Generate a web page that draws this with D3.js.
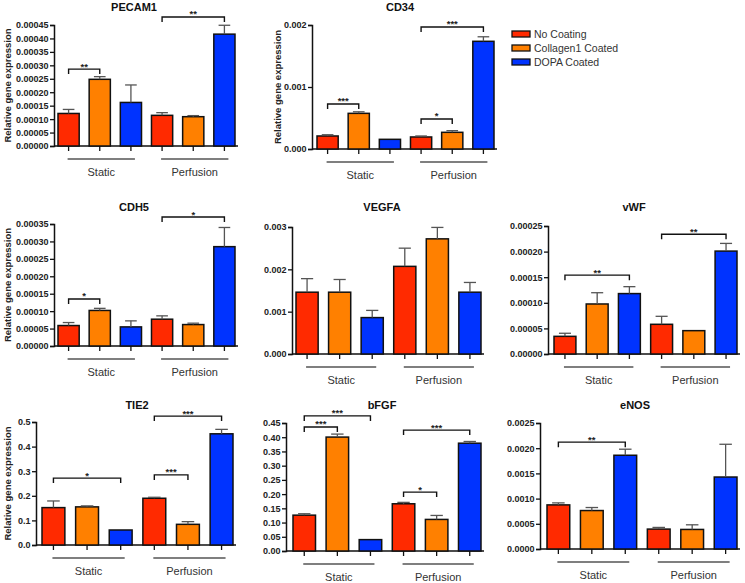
<!DOCTYPE html>
<html>
<head>
<meta charset="utf-8">
<script src="https://cdn.jsdelivr.net/npm/d3@7"></script>
<style>
  body { margin: 0; background: #fff; }
  svg { display: block; }
  text { font-family: "Liberation Sans", Arial, sans-serif; }
</style>
</head>
<body>
<svg id="chart" width="745" height="583"></svg>
<script>
// ---------------- DATA ----------------
const genes = ["PECAM1", "CD34", "CDH5", "VEGFA", "vWF", "TIE2", "bFGF", "eNOS"];
const groups = ["Static", "Perfusion"];
const coatings = ["No Coating", "Collagen1 Coated", "DOPA Coated"];
const coatingColors = ["#ff2a00", "#ff8000", "#0033ff"];

// bar order: Static(No, Col1, DOPA), Perfusion(No, Col1, DOPA)
const meanPECAM1 = [0.000121, 0.000248, 0.000162, 0.000114, 0.000109, 0.000416];
const errPECAM1  = [0.000015, 0.000010, 0.000065, 0.000010, 0.000004, 0.000033];
const meanCD34   = [0.000210, 0.000575, 0.000156, 0.000194, 0.000269, 0.001737];
const errCD34    = [0.000020, 0.000025, 0.000000, 0.000016, 0.000027, 0.000073];
const meanCDH5   = [0.0000587, 0.000102, 0.0000548, 0.0000769, 0.0000615, 0.000285];
const errCDH5    = [0.0000086, 0.000006, 0.0000173, 0.0000096, 0.0000040, 0.000055];
const meanVEGFA  = [0.00146, 0.00146, 0.00086, 0.00207, 0.00272, 0.00146];
const errVEGFA   = [0.00032, 0.00030, 0.00017, 0.00043, 0.00027, 0.00023];
const meanVWF    = [0.0000345, 0.0000977, 0.000118, 0.000058, 0.0000456, 0.000201];
const errVWF     = [0.0000060, 0.0000220, 0.0000135, 0.0000156, 0.0000000, 0.000015];
const meanTIE2   = [0.152, 0.155, 0.061, 0.190, 0.084, 0.452];
const errTIE2    = [0.027, 0.004, 0.000, 0.004, 0.011, 0.018];
const meanBFGF   = [0.126, 0.4005, 0.040, 0.166, 0.111, 0.379];
const errBFGF    = [0.005, 0.0105, 0.000, 0.005, 0.014, 0.006];
const meanENOS   = [0.000875, 0.000763, 0.00186, 0.000395, 0.000388, 0.001428];
const errENOS    = [0.000040, 0.000060, 0.00012, 0.000033, 0.000092, 0.00065];

// y tick values per panel
const ticksPECAM1 = [0, 0.00005, 0.0001, 0.00015, 0.0002, 0.00025, 0.0003, 0.00035, 0.0004, 0.00045];
const ticksCD34   = [0, 0.001, 0.002];
const ticksCDH5   = [0, 0.00005, 0.0001, 0.00015, 0.0002, 0.00025, 0.0003, 0.00035];
const ticksVEGFA  = [0, 0.001, 0.002, 0.003];
const ticksVWF    = [0, 0.00005, 0.0001, 0.00015, 0.0002, 0.00025];
const ticksTIE2   = [0, 0.1, 0.2, 0.3, 0.4, 0.5];
const ticksBFGF   = [0, 0.05, 0.1, 0.15, 0.2, 0.25, 0.3, 0.35, 0.4, 0.45];
const ticksENOS   = [0, 0.0005, 0.001, 0.0015, 0.002, 0.0025];
const tickDecimals = [5, 3, 5, 3, 5, 1, 2, 4];

// significance brackets: [fromBar, toBar, level (data units), label]
const sigPECAM1 = [[0, 1, 0.000286, "**"], [3, 5, 0.00048, "**"]];
const sigCD34   = [[0, 1, 0.000726, "***"], [3, 4, 0.000484, "*"], [3, 5, 0.001968, "***"]];
const sigCDH5   = [[0, 1, 0.000135, "*"], [3, 5, 0.00037, "*"]];
const sigVEGFA  = [];
const sigVWF    = [[0, 2, 0.000154, "**"], [3, 5, 0.000234, "**"]];
const sigTIE2   = [[0, 2, 0.272, "*"], [3, 4, 0.285, "***"], [3, 5, 0.524, "***"]];
const sigBFGF   = [[0, 1, 0.436, "***"], [0, 2, 0.475, "***"], [3, 5, 0.425, "***"], [3, 4, 0.207, "*"]];
const sigENOS   = [[0, 2, 0.00212, "**"]];

const yLabel = "Relative gene expression";

const means = [meanPECAM1, meanCD34, meanCDH5, meanVEGFA, meanVWF, meanTIE2, meanBFGF, meanENOS];
const errs  = [errPECAM1, errCD34, errCDH5, errVEGFA, errVWF, errTIE2, errBFGF, errENOS];
const ticks = [ticksPECAM1, ticksCD34, ticksCDH5, ticksVEGFA, ticksVWF, ticksTIE2, ticksBFGF, ticksENOS];
const sigs  = [sigPECAM1, sigCD34, sigCDH5, sigVEGFA, sigVWF, sigTIE2, sigBFGF, sigENOS];

// ---------------- LAYOUT ----------------
const layout = [
  {ax: 54,  b0: 58,  b1: 235, y0: 146, yt: 25,  tx: 134, ty: 11,  ylab: 7},
  {ax: 312, b0: 317, b1: 494, y0: 149, yt: 25,  tx: 400, ty: 11,  ylab: 277},
  {ax: 54,  b0: 58,  b1: 235, y0: 346, yt: 224, tx: 134, ty: 211, ylab: 7},
  {ax: 292, b0: 296, b1: 481, y0: 354, yt: 227, tx: 382, ty: 211, ylab: null},
  {ax: 548, b0: 554, b1: 737, y0: 354, yt: 226, tx: 634, ty: 211, ylab: null},
  {ax: 36,  b0: 42,  b1: 233, y0: 545, yt: 422, tx: 137, ty: 409, ylab: 7},
  {ax: 286, b0: 293, b1: 481, y0: 551, yt: 423, tx: 382, ty: 409, ylab: null},
  {ax: 540, b0: 547, b1: 737, y0: 549, yt: 423, tx: 635, ty: 409, ylab: null}
];

const svg = d3.select("#chart");

genes.forEach((gene, gi) => {
  const L = layout[gi];
  const g = svg.append("g");
  const tk = ticks[gi];
  const ymax = tk[tk.length - 1];
  const y = d3.scaleLinear().domain([0, ymax]).range([L.y0, L.yt]);

  const pad = 0.32;
  const n = 6;
  const stepEst = (L.b1 - L.b0) / (n - pad);
  const gap = stepEst * pad;
  const x = d3.scaleBand().domain(d3.range(n))
    .range([L.b0 - gap / 2, L.b1 + gap / 2])
    .paddingInner(pad).paddingOuter(pad / 2);
  const bw = x.bandwidth();

  // title
  g.append("text").attr("x", L.tx).attr("y", L.ty)
    .attr("text-anchor", "middle").attr("font-size", 11).attr("font-weight", "bold")
    .attr("fill", "#111").text(gene);

  // y axis
  const yAxis = d3.axisLeft(y).tickValues(tk).tickSize(4).tickPadding(1.5)
    .tickFormat(d3.format("." + tickDecimals[gi] + "f"));
  const ya = g.append("g").attr("transform", `translate(${L.ax},0)`).call(yAxis);
  ya.select(".domain").attr("stroke", "#111").attr("stroke-width", 1.5);
  ya.selectAll(".tick line").attr("stroke", "#111").attr("stroke-width", 1.3);
  ya.selectAll(".tick text").attr("font-size", 9).attr("font-weight", "bold")
    .attr("fill", "#222").attr("font-family", "Liberation Sans, Arial, sans-serif");

  // x axis
  const xAxis = d3.axisBottom(x).tickSize(5).tickFormat("");
  const xa = g.append("g").attr("transform", `translate(0,${L.y0})`).call(xAxis);
  xa.select(".domain").attr("d", `M${L.ax},0H${L.b1 + 3}`)
    .attr("stroke", "#111").attr("stroke-width", 1.5);
  xa.selectAll(".tick line").attr("stroke", "#111").attr("stroke-width", 1.3);

  // bars
  const data = means[gi].map((v, i) => ({i, v, e: errs[gi][i]}));
  g.selectAll("rect.bar").data(data).enter().append("rect")
    .attr("class", "bar")
    .attr("x", d => x(d.i)).attr("width", bw)
    .attr("y", d => y(d.v)).attr("height", d => L.y0 - y(d.v))
    .attr("fill", d => coatingColors[d.i % 3])
    .attr("stroke", "#111").attr("stroke-width", 1.5);

  // error bars (upper only)
  const capW = bw * 0.55;
  const eg = g.selectAll("g.err").data(data.filter(d => d.e > 0)).enter().append("g");
  eg.append("line")
    .attr("x1", d => x(d.i) + bw / 2).attr("x2", d => x(d.i) + bw / 2)
    .attr("y1", d => y(d.v)).attr("y2", d => y(d.v + d.e))
    .attr("stroke", "#555").attr("stroke-width", 1.3);
  eg.append("line")
    .attr("x1", d => x(d.i) + bw / 2 - capW / 2).attr("x2", d => x(d.i) + bw / 2 + capW / 2)
    .attr("y1", d => y(d.v + d.e)).attr("y2", d => y(d.v + d.e))
    .attr("stroke", "#555").attr("stroke-width", 1.3);

  // group lines & labels
  groups.forEach((grp, k) => {
    const c0 = x(k * 3) + bw / 2, c2 = x(k * 3 + 2) + bw / 2;
    const xl = c0 - 1, xr = c2 + 4;
    g.append("line").attr("x1", xl).attr("x2", xr)
      .attr("y1", L.y0 + 13).attr("y2", L.y0 + 13)
      .attr("stroke", "#555").attr("stroke-width", 1.5);
    g.append("text").attr("x", (xl + xr) / 2).attr("y", L.y0 + 30)
      .attr("text-anchor", "middle").attr("font-size", 11).attr("fill", "#333")
      .text(grp);
  });

  // significance brackets
  sigs[gi].forEach(([a, b, lvl, lab]) => {
    const xa1 = x(a) + bw / 2, xb1 = x(b) + bw / 2;
    const yy = y(lvl);
    g.append("path")
      .attr("d", `M${xa1},${yy + 5}V${yy}H${xb1}V${yy + 5}`)
      .attr("fill", "none").attr("stroke", "#111").attr("stroke-width", 1.4);
    g.append("text").attr("x", (xa1 + xb1) / 2).attr("y", yy + 0.5)
      .attr("text-anchor", "middle").attr("font-size", 9.5).attr("font-weight", "bold")
      .attr("fill", "#222").text(lab);
  });

  // y label
  if (L.ylab !== null) {
    const cy = (L.y0 + L.yt) / 2;
    g.append("text")
      .attr("transform", `translate(${L.ylab},${cy}) rotate(-90)`)
      .attr("text-anchor", "middle").attr("dominant-baseline", "central")
      .attr("font-size", 9.5).attr("font-weight", "bold").attr("fill", "#222")
      .text(yLabel);
  }
});

// legend
const lg = svg.append("g");
coatings.forEach((c, i) => {
  const yy = 34 + i * 14;
  lg.append("rect").attr("x", 512).attr("y", yy - 3).attr("width", 18).attr("height", 6)
    .attr("fill", coatingColors[i]).attr("stroke", "#111").attr("stroke-width", 1.3);
  lg.append("text").attr("x", 534).attr("y", yy).attr("dominant-baseline", "central")
    .attr("font-size", 10.5).attr("fill", "#333").text(c);
});
</script>
</body>
</html>
